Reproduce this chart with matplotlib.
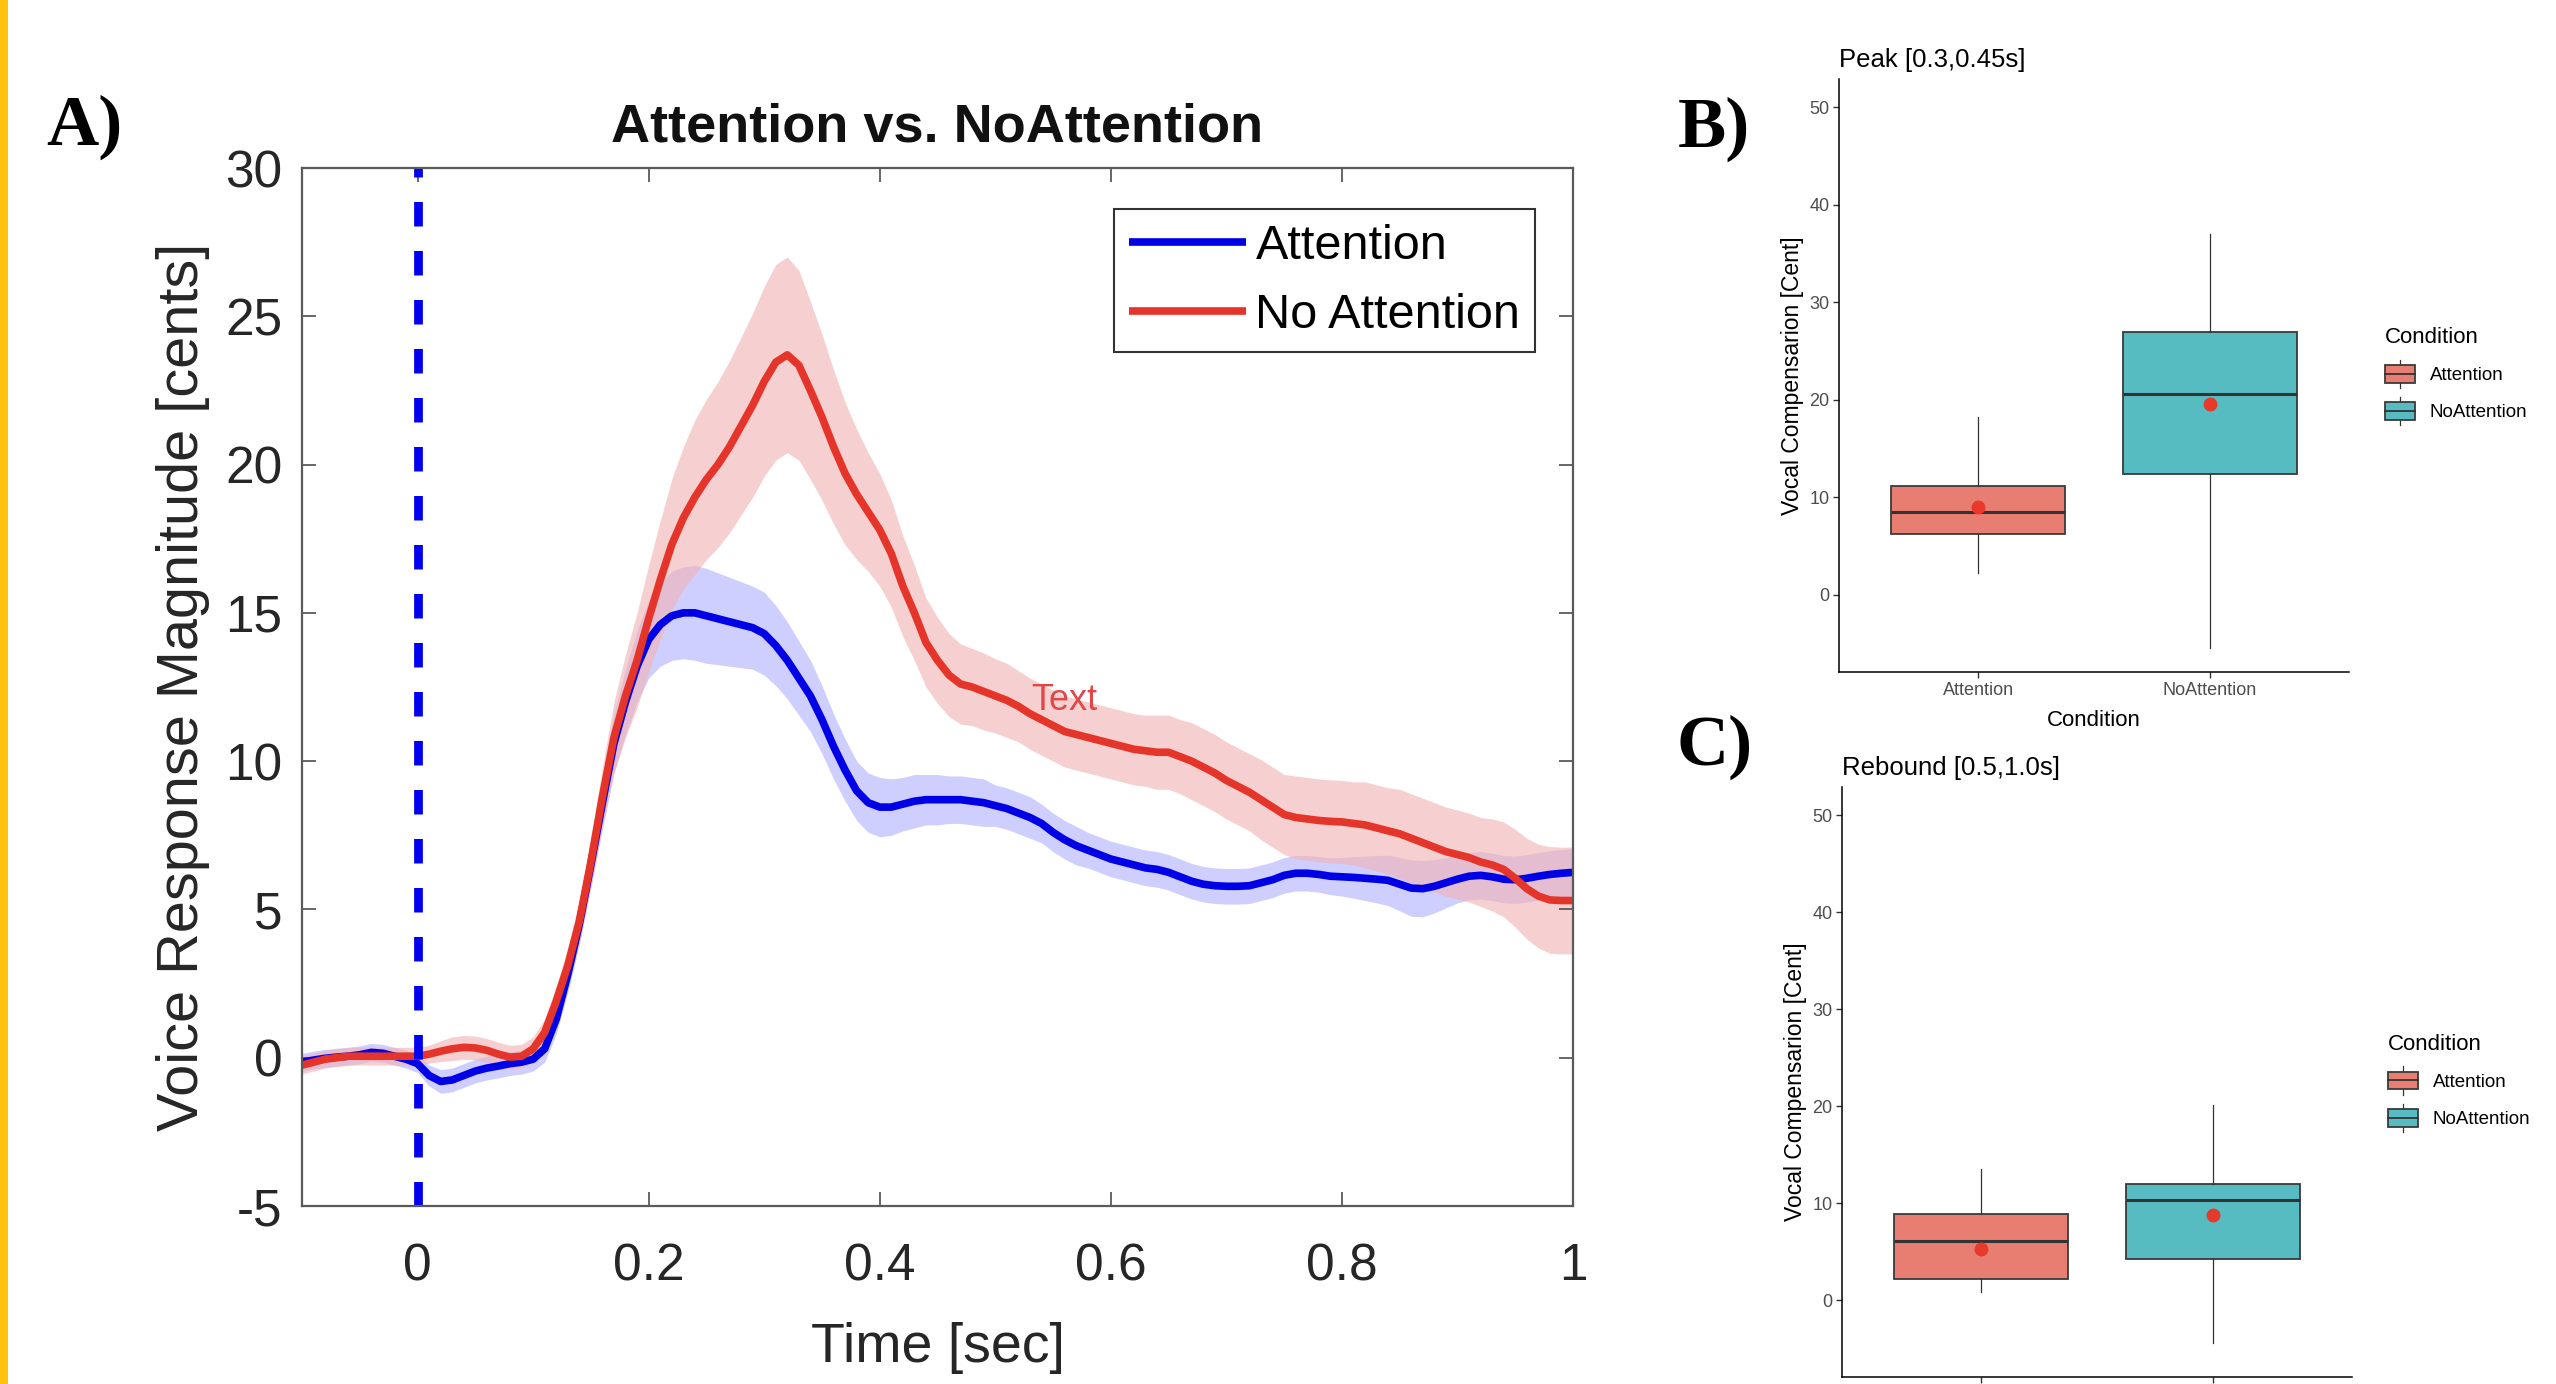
import numpy as np
import matplotlib
matplotlib.use('Agg')
import matplotlib.pyplot as plt
from matplotlib.patches import Rectangle, Patch
from matplotlib.lines import Line2D
from matplotlib.legend_handler import HandlerBase

plt.rcParams['font.family'] = ['Liberation Sans', 'DejaVu Sans']

# ---------------- Panel A data ----------------
time_s = np.linspace(-0.10, 1.00, 111)

attn_mean = [
    -0.15, -0.08, -0.02, 0.02, 0.05, 0.10, 0.18, 0.15, 0.05, -0.05,
    -0.20, -0.60, -0.80, -0.75, -0.60, -0.45, -0.35, -0.28, -0.20, -0.15,
    -0.05, 0.30, 1.3, 2.8, 4.5, 6.5, 8.6, 10.6, 12.0, 13.2,
    14.1, 14.6, 14.9, 15.0, 15.0, 14.9, 14.8, 14.7, 14.6, 14.5,
    14.3, 13.9, 13.4, 12.8, 12.2, 11.4, 10.5, 9.7, 9.0, 8.6,
    8.45, 8.45, 8.55, 8.65, 8.7, 8.7, 8.7, 8.7, 8.65, 8.6,
    8.5, 8.4, 8.25, 8.1, 7.9, 7.6, 7.35, 7.15, 7.0, 6.85,
    6.7, 6.6, 6.5, 6.4, 6.35, 6.25, 6.1, 5.95, 5.85, 5.8,
    5.78, 5.78, 5.8, 5.9, 6.0, 6.15, 6.22, 6.22, 6.18, 6.12,
    6.1, 6.08, 6.05, 6.02, 5.98, 5.85, 5.72, 5.7, 5.78, 5.9,
    6.02, 6.12, 6.15, 6.1, 6.02, 6.0, 6.05, 6.12, 6.18, 6.22,
    6.25]

attn_sem = [
    0.3, 0.3, 0.3, 0.3, 0.3, 0.3, 0.3, 0.3, 0.3, 0.3,
    0.3, 0.35, 0.4, 0.4, 0.4, 0.4, 0.4, 0.4, 0.4, 0.4,
    0.4, 0.45, 0.5, 0.6, 0.7, 0.8, 0.9, 1.0, 1.1, 1.2,
    1.3, 1.4, 1.5, 1.55, 1.6, 1.6, 1.55, 1.5, 1.45, 1.4,
    1.4, 1.35, 1.3, 1.25, 1.2, 1.15, 1.1, 1.05, 1.0, 1.0,
    1.0, 0.95, 0.9, 0.9, 0.85, 0.85, 0.8, 0.8, 0.8, 0.8,
    0.7, 0.7, 0.7, 0.7, 0.65, 0.65, 0.65, 0.65, 0.6, 0.6,
    0.6, 0.6, 0.6, 0.6, 0.6, 0.6, 0.6, 0.6, 0.6, 0.6,
    0.6, 0.6, 0.6, 0.6, 0.6, 0.6, 0.6, 0.6, 0.6, 0.62,
    0.65, 0.7, 0.75, 0.8, 0.85, 0.9, 0.95, 0.95, 0.9, 0.85,
    0.8, 0.8, 0.8, 0.8, 0.8, 0.8, 0.8, 0.8, 0.8, 0.8,
    0.8]

noattn_mean = [
    -0.25, -0.15, -0.05, 0.0, 0.05, 0.05, 0.05, 0.05, 0.05, 0.05,
    0.05, 0.12, 0.22, 0.30, 0.35, 0.33, 0.25, 0.12, 0.02, 0.05,
    0.3, 0.85, 1.9, 3.1, 4.6, 6.6, 8.8, 10.8, 12.2, 13.4,
    14.8, 16.1, 17.3, 18.2, 18.9, 19.5, 20.0, 20.6, 21.3, 22.0,
    22.8, 23.45, 23.7, 23.35, 22.5, 21.6, 20.6, 19.7, 19.0, 18.4,
    17.8, 17.0, 15.9, 15.0, 14.0, 13.4, 12.9, 12.6, 12.5, 12.35,
    12.2, 12.05, 11.85, 11.6, 11.4, 11.2, 11.0, 10.9, 10.8, 10.7,
    10.6, 10.5, 10.4, 10.35, 10.3, 10.3, 10.15, 10.0, 9.8, 9.6,
    9.35, 9.15, 8.95, 8.7, 8.45, 8.2, 8.1, 8.05, 8.0, 7.97,
    7.95, 7.9, 7.85, 7.75, 7.65, 7.55, 7.4, 7.25, 7.1, 6.95,
    6.85, 6.75, 6.6, 6.5, 6.35, 6.05, 5.7, 5.45, 5.32, 5.3,
    5.3]

noattn_sem = [
    0.3, 0.3, 0.3, 0.3, 0.3, 0.3, 0.3, 0.3, 0.3, 0.3,
    0.3, 0.3, 0.35, 0.4, 0.4, 0.4, 0.4, 0.4, 0.4, 0.4,
    0.4, 0.45, 0.5, 0.6, 0.7, 0.8, 1.0, 1.2, 1.4, 1.6,
    1.8, 2.0, 2.2, 2.4, 2.6, 2.7, 2.8, 2.9, 3.0, 3.1,
    3.2, 3.3, 3.3, 3.2, 3.0, 2.8, 2.6, 2.4, 2.2, 2.0,
    1.9, 1.8, 1.7, 1.6, 1.5, 1.45, 1.4, 1.35, 1.3, 1.3,
    1.25, 1.25, 1.2, 1.2, 1.2, 1.2, 1.2, 1.2, 1.2, 1.2,
    1.2, 1.2, 1.2, 1.2, 1.25, 1.25, 1.25, 1.3, 1.3, 1.3,
    1.3, 1.3, 1.3, 1.35, 1.35, 1.35, 1.4, 1.4, 1.4, 1.4,
    1.4, 1.4, 1.45, 1.45, 1.45, 1.5, 1.5, 1.5, 1.5, 1.5,
    1.5, 1.5, 1.5, 1.55, 1.6, 1.65, 1.7, 1.75, 1.8, 1.8,
    1.8]

series_labels = ['Attention', 'No Attention']
a_xticks = [0, 0.2, 0.4, 0.6, 0.8, 1.0]
a_xticklabels = ['0', '0.2', '0.4', '0.6', '0.8', '1']
a_yticks = [-5, 0, 5, 10, 15, 20, 25, 30]
a_yticklabels = ['-5', '0', '5', '10', '15', '20', '25', '30']

# ---------------- Panels B / C data ----------------
conditions = ['Attention', 'NoAttention']
peak_whislo = [2.3, -5.4]
peak_q1 = [6.2, 12.4]
peak_med = [8.5, 20.6]
peak_q3 = [11.2, 27.0]
peak_whishi = [18.25, 37.0]
peak_mean = [9.0, 19.6]

reb_whislo = [0.9, -4.35]
reb_q1 = [2.15, 4.26]
reb_med = [6.1, 10.35]
reb_q3 = [8.9, 12.0]
reb_whishi = [13.5, 20.1]
reb_mean = [5.25, 8.75]

bc_yticks = [0, 10, 20, 30, 40, 50]

W, H = 2556, 1384
fig = plt.figure(figsize=(W / 100, H / 100), dpi=100)
fig.patch.set_facecolor('white')


def fx(px):
    return px / W


def fy(py):
    return 1 - py / H


# yellow strip on the left edge
fig.add_artist(Rectangle((0, 0), fx(8), 1, transform=fig.transFigure,
                         facecolor='#FFC20E', edgecolor='none'))

# ---------------- Panel A ----------------
axA = fig.add_axes([fx(302), fy(1206), fx(1573 - 302), (1206 - 168) / H])
t = time_s
am, asd = np.array(attn_mean), np.array(attn_sem)
nm, nsd = np.array(noattn_mean), np.array(noattn_sem)
blue = '#0000E6'
red = '#E5352A'
axA.fill_between(t, am - asd, am + asd, color=(0.62, 0.62, 1.0), alpha=0.5, lw=0)
hb, = axA.plot(t, am, color=blue, lw=5.5, solid_capstyle='butt')
axA.fill_between(t, nm - nsd, nm + nsd, color=(0.95, 0.70, 0.70), alpha=0.62, lw=0)
hr, = axA.plot(t, nm, color=red, lw=5.5, solid_capstyle='butt')
axA.plot([0, 0], [-5, 30], color='#0000F0', lw=6.3, dashes=(2.8, 2.8))

axA.set_xlim(-0.1, 1.0)
axA.set_ylim(-5, 30)
axA.set_xticks(a_xticks)
axA.set_xticklabels(a_xticklabels)
axA.set_yticks(a_yticks)
axA.set_yticklabels(a_yticklabels)
for sp in axA.spines.values():
    sp.set_color('#5a5a5a')
    sp.set_linewidth(1.6)
axA.tick_params(direction='in', length=10, width=1.3, top=True, right=True,
                color='#5a5a5a', labelcolor='#262626', labelsize=37)
axA.tick_params(axis='x', pad=26)
axA.tick_params(axis='y', pad=14)
axA.set_title('Attention vs. NoAttention', fontsize=39, fontweight='bold', pad=19,
              color='#111111')
axA.set_xlabel('Time [sec]', fontsize=40, labelpad=22, color='#262626')
axA.set_ylabel('Voice Response Magnitude [cents]', fontsize=41.5, labelpad=11,
               color='#262626')
axA.text(0.56, 12.05, 'Text', color='#E04848', fontsize=26, ha='center', va='center')
legA = axA.legend([hb, hr], series_labels, loc='upper right',
                  bbox_to_anchor=(0.970, 0.9605), fontsize=35, handlelength=2.4,
                  handletextpad=0.2, labelspacing=0.5, borderpad=0.3,
                  borderaxespad=0, frameon=True, fancybox=False, framealpha=1)
legA.get_frame().set_edgecolor('#333333')
legA.get_frame().set_linewidth(1.5)

# ---------------- Panels B & C ----------------
fills = ['#E87D72', '#56BCC2']
edge = '#3a3a3a'


class BoxKeyHandler(HandlerBase):
    def create_artists(self, legend, orig_handle, xdescent, ydescent, width,
                       height, fontsize, trans):
        x0, y0 = -xdescent, -ydescent
        xc = x0 + width / 2
        whisk = Line2D([xc, xc], [y0 - 0.1 * height, y0 + 1.1 * height],
                       color='#333333', lw=0.9, transform=trans)
        rect = Rectangle((x0, y0 + 0.12 * height), width, 0.76 * height,
                         facecolor=orig_handle.get_facecolor(), edgecolor=edge,
                         lw=1.3, transform=trans)
        med = Line2D([x0, x0 + width], [y0 + height / 2] * 2, color='#333333',
                     lw=1.3, transform=trans)
        return [whisk, rect, med]


def box_panel(ax, whislo, q1, med, q3, whishi, mean, title, show_xtext=True):
    stats = []
    for i, c in enumerate(conditions):
        stats.append(dict(med=med[i], q1=q1[i], q3=q3[i], whislo=whislo[i],
                          whishi=whishi[i], mean=mean[i], label=c))
    bp = ax.bxp(stats, positions=[1, 2], widths=0.75, patch_artist=True,
                showmeans=True, showfliers=False, showcaps=False,
                medianprops=dict(color='#333333', lw=2.2),
                whiskerprops=dict(color='#333333', lw=0.9),
                boxprops=dict(edgecolor=edge, lw=1.3),
                meanprops=dict(marker='o', markerfacecolor='#E8392B',
                               markeredgecolor='#E8392B', markersize=9))
    for patch, c in zip(bp['boxes'], fills):
        patch.set_facecolor(c)
    ax.set_xlim(0.4, 2.6)
    ax.set_ylim(-7.9, 52.9)
    ax.set_yticks(bc_yticks)
    ax.set_xticks([1, 2])
    if show_xtext:
        ax.set_xticklabels(conditions)
        ax.set_xlabel('Condition', fontsize=16, labelpad=8)
    else:
        ax.set_xticklabels(['', ''])
    for s in ['top', 'right']:
        ax.spines[s].set_visible(False)
    for s in ['left', 'bottom']:
        ax.spines[s].set_color('black')
        ax.spines[s].set_linewidth(1.1)
    ax.tick_params(direction='out', length=4, width=1, color='#333333',
                   labelcolor='#4D4D4D', labelsize=13, pad=3)
    ax.set_title(title, loc='left', fontsize=18.5, pad=9)
    ax.set_ylabel('Vocal Compensarion [Cent]', fontsize=16.5, labelpad=4)
    handles = [Patch(facecolor=c, edgecolor=edge) for c in fills]
    ax.legend(handles, conditions, handler_map={Patch: BoxKeyHandler()},
              title='Condition', title_fontsize=16, fontsize=13.5,
              loc='upper left', bbox_to_anchor=(1.07, 0.582), frameon=False,
              handlelength=1.6, handleheight=1.55, labelspacing=0.75,
              handletextpad=0.8, alignment='left', borderpad=0, borderaxespad=0)


axB = fig.add_axes([fx(1839), fy(672), fx(510), 593 / H])
box_panel(axB, peak_whislo, peak_q1, peak_med, peak_q3, peak_whishi, peak_mean,
          'Peak [0.3,0.45s]')

axC = fig.add_axes([fx(1842), fy(1377), fx(510), 590 / H])
box_panel(axC, reb_whislo, reb_q1, reb_med, reb_q3, reb_whishi, reb_mean,
          'Rebound [0.5,1.0s]', show_xtext=False)

# panel letters
for lab, (px, py) in {'A)': (84, 127), 'B)': (1714, 129), 'C)': (1715, 747)}.items():
    fig.text(fx(px), fy(py), lab, family=['Liberation Serif', 'DejaVu Serif'],
             fontweight='bold', fontsize=52, ha='center', va='center')

fig.savefig('out.png', dpi=100, facecolor='white')
